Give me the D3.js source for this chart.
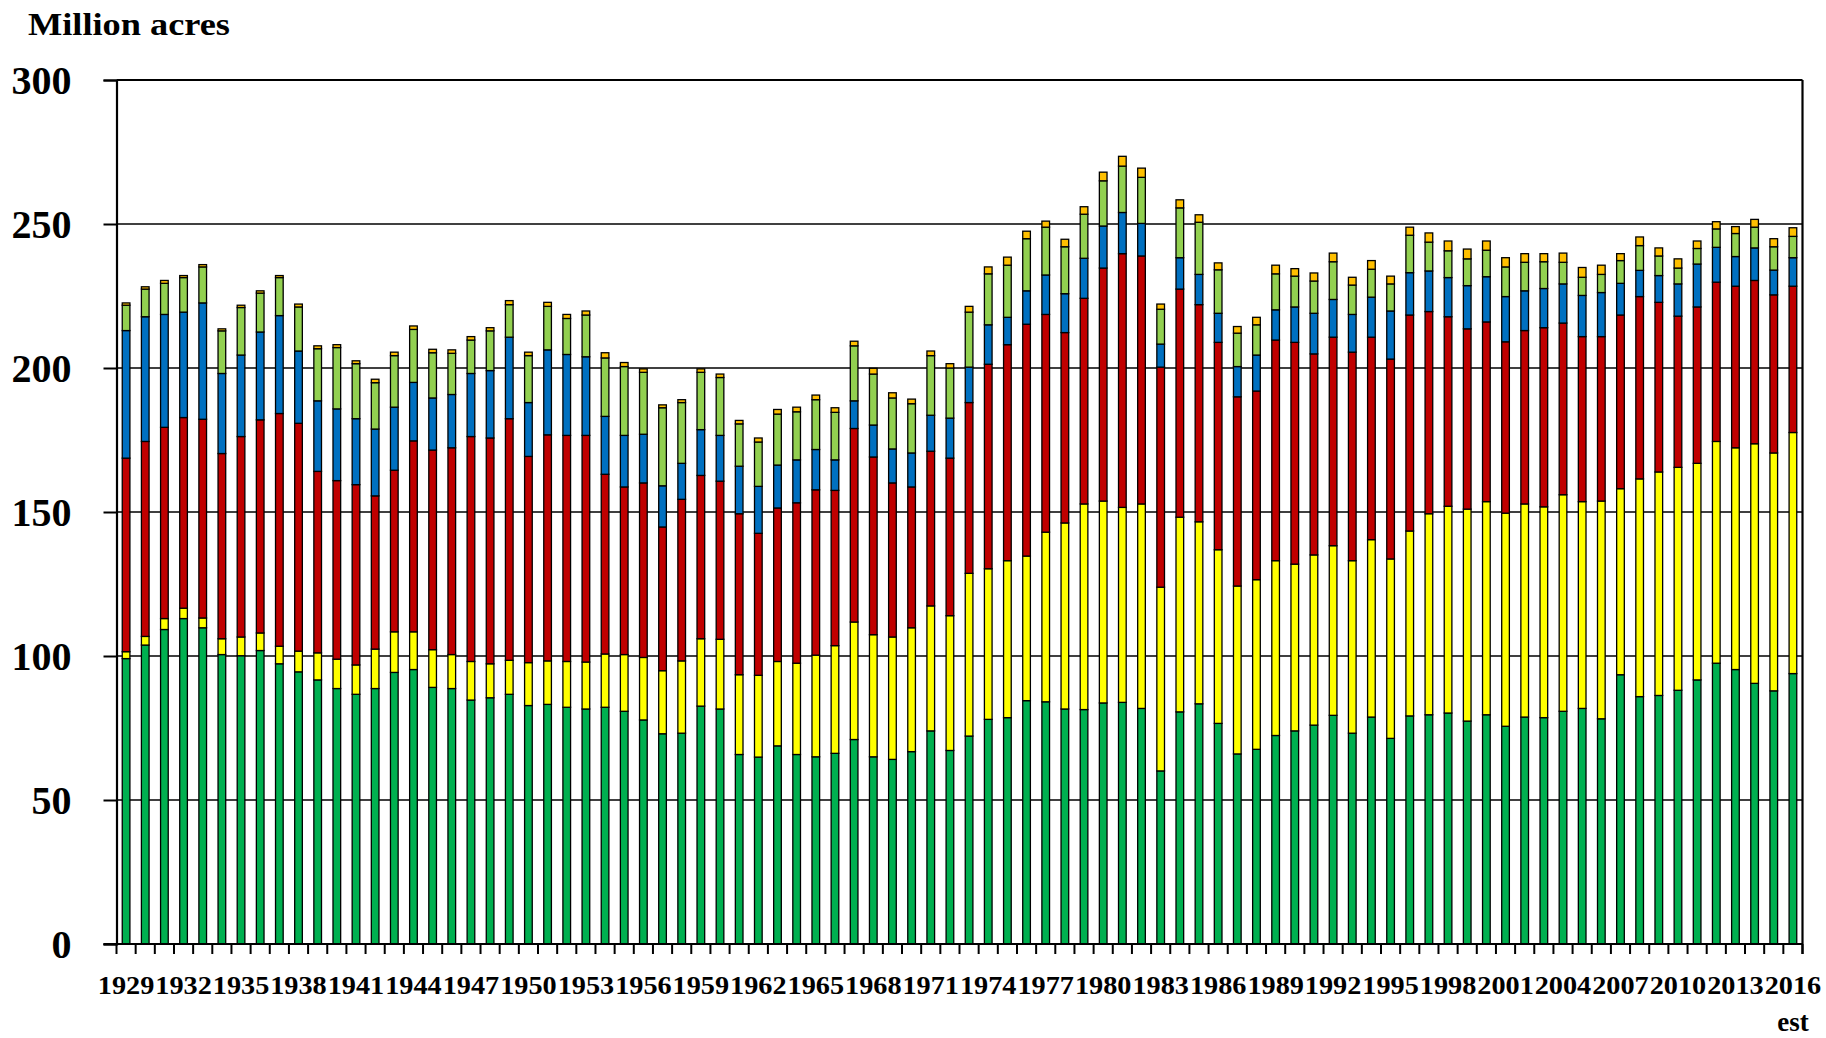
<!DOCTYPE html>
<html>
<head>
<meta charset="utf-8">
<script src="https://cdn.jsdelivr.net/npm/d3@7"></script>
<style>
  body { margin: 0; background: #fff; }
  text { font-family: "Liberation Serif", "Times New Roman", serif; font-weight: bold; fill: #000; }
</style>
</head>
<body>
<script>
const width = 1826;
const height = 1038;

// categories
const years = d3.range(1929, 2017);
const labelYears = d3.range(1929, 2017, 3);
const yTicks = [0, 50, 100, 150, 200, 250, 300];

// million acres (bottom to top of each bar)
const corn = [99.1,103.8,109.2,113.0,109.8,100.5,100.1,101.9,97.3,94.5,91.7,88.7,86.7,88.7,94.3,95.3,89.1,88.7,84.7,85.5,
	86.7,82.8,83.2,82.2,81.6,82.2,80.8,77.8,73.0,73.2,82.6,81.6,65.8,64.9,68.8,65.8,65.0,66.2,71.0,65.0,
	64.1,66.8,74.0,67.2,72.2,78.0,78.6,84.5,84.1,81.6,81.4,83.7,83.9,81.8,60.1,80.6,83.4,76.6,66.0,67.6,
	72.4,74.0,76.0,79.4,73.2,78.8,71.4,79.2,79.6,80.2,77.4,79.6,75.6,78.8,78.6,80.8,81.8,78.2,93.5,85.9,
	86.3,88.1,91.7,97.5,95.3,90.5,87.9,93.9];
const soybeans = [2.4,3.0,3.8,3.6,3.4,5.5,6.5,6.1,6.1,7.2,9.4,10.2,10.2,13.7,14.1,13.1,13.1,11.8,13.4,11.8,
	11.8,14.9,15.1,15.9,16.3,18.5,19.7,21.7,21.9,25.1,23.4,24.2,27.7,28.4,29.3,31.7,35.3,37.4,40.8,42.4,
	42.5,43.0,43.4,46.8,56.5,52.3,54.5,50.2,58.9,64.6,71.4,70.1,67.7,71.0,63.8,67.6,63.2,60.3,58.3,58.9,
	60.7,57.9,59.1,58.9,59.9,61.6,62.3,64.2,69.8,71.8,73.6,74.0,74.0,74.0,73.2,75.2,71.8,75.6,64.6,75.6,
	77.6,77.4,75.2,77.0,77.0,83.2,82.6,83.7];
const wheat = [67.2,67.7,66.4,66.2,69.0,64.3,69.6,74.0,80.8,79.1,63.0,62.0,62.6,53.2,56.1,66.3,69.3,71.8,78.1,78.4,
	83.9,71.6,78.5,78.5,78.7,62.4,58.2,60.6,49.9,56.1,56.7,54.9,55.9,49.3,53.3,55.7,57.4,53.9,67.2,61.7,
	53.5,48.9,53.7,54.7,59.3,71.0,75.0,80.5,75.6,66.1,71.4,80.9,88.1,86.1,76.4,79.2,75.4,72.0,65.7,65.5,
	76.6,77.0,69.8,72.4,72.4,70.3,69.4,75.0,70.2,65.8,62.6,62.4,59.5,60.2,62.2,59.6,57.3,57.1,60.3,63.3,
	58.9,52.5,54.3,55.3,56.1,56.7,54.9,50.8];
const cotton = [44.3,43.3,39.2,36.6,40.4,27.8,28.3,30.5,34.0,25.1,24.5,24.9,22.9,23.2,21.9,20.3,18.1,18.5,21.9,23.4,
	28.3,18.7,29.5,28.1,27.3,20.1,17.9,16.9,14.3,12.5,15.9,15.9,16.5,16.3,14.9,14.9,14.0,10.6,9.6,11.1,
	11.8,11.8,12.5,13.9,12.3,13.7,9.5,11.6,13.7,13.5,13.9,14.6,14.3,11.3,8.0,10.9,10.5,10.1,10.5,12.5,
	10.5,12.3,14.1,13.1,13.1,13.9,16.7,14.7,14.1,13.6,15.0,15.7,15.7,13.8,13.6,13.6,14.3,15.3,11.0,9.1,
	9.3,11.2,14.9,12.1,10.3,11.3,8.6,9.9];
const sorghum = [8.8,9.6,10.8,12.0,12.5,14.8,16.5,13.5,13.2,15.3,18.1,21.3,19.1,16.1,17.9,18.4,15.7,14.3,11.6,13.8,
	11.3,16.3,15.1,12.5,14.5,20.3,23.9,21.5,27.1,21.1,19.9,20.1,14.7,15.4,17.7,16.7,17.3,16.5,19.1,17.7,
	17.7,17.1,20.7,17.4,19.1,17.7,18.1,18.1,16.6,16.3,15.3,15.7,16.1,16.0,12.1,17.3,18.1,15.1,11.6,10.5,
	12.5,10.7,11.2,13.1,10.2,9.7,9.4,13.0,10.0,9.3,9.3,9.2,10.3,9.9,9.3,7.5,6.3,6.3,7.9,8.6,
	6.8,5.5,5.4,6.4,8.0,7.2,8.1,7.4];
const rice = [0.8,0.8,1.0,0.7,0.8,0.7,0.8,0.8,0.7,1.0,1.0,1.0,1.0,1.2,1.2,1.2,1.2,1.2,1.2,1.1,
	1.4,1.2,1.4,1.4,1.4,1.8,1.4,1.2,1.0,1.0,1.2,1.2,1.2,1.4,1.6,1.6,1.6,1.6,1.6,2.0,
	1.8,1.6,1.6,1.5,2.0,2.4,2.8,2.6,2.1,2.6,2.6,3.0,3.4,3.2,1.8,2.8,2.6,2.4,2.3,2.6,
	3.0,2.6,2.8,3.0,2.7,3.0,2.7,2.8,3.2,3.4,3.4,3.2,3.2,3.0,2.8,3.2,3.4,3.2,2.4,3.0,
	2.8,3.2,2.6,2.5,2.4,2.7,2.8,3.0];

const keys = ["corn", "soybeans", "wheat", "cotton", "sorghum", "rice"];
const colors = ["#00B050", "#FFFF00", "#C00000", "#0070C0", "#92D050", "#FFC000"];
const series = [corn, soybeans, wheat, cotton, sorghum, rice];

const rows = years.map(function(yr, i) {
	const row = { year: yr };
	keys.forEach((k, j) => row[k] = series[j][i]);
	return row;
});

const margin = { left: 116.5, right: 23.5, top: 80, bottom: 94 };

const svg = d3.select("body")
	.append("svg")
	.attr("width", width)
	.attr("height", height);

const x = d3.scaleBand()
	.domain(years)
	.range([margin.left, width - margin.right])
	.paddingInner(0.6)
	.paddingOuter(0.3);

const y = d3.scaleLinear()
	.domain([0, 300])
	.range([height - margin.bottom, margin.top]);

const colorScale = d3.scaleOrdinal().domain(keys).range(colors);

// gridlines
svg.append("g")
	.selectAll("line")
	.data(yTicks.filter(t => t > 0))
	.enter()
	.append("line")
	.attr("x1", margin.left)
	.attr("x2", width - margin.right)
	.attr("y1", d => y(d))
	.attr("y2", d => y(d))
	.attr("stroke", "#000")
	.attr("stroke-width", d => d == 300 ? 2.2 : 1.6);

// bars
const stacked = d3.stack().keys(keys)(rows);

svg.append("g")
	.selectAll("g")
	.data(stacked)
	.enter()
	.append("g")
	.attr("fill", d => colorScale(d.key))
	.selectAll("rect")
	.data(d => d)
	.enter()
	.append("rect")
	.attr("x", d => x(d.data.year))
	.attr("width", x.bandwidth())
	.attr("y", d => y(d[1]))
	.attr("height", d => y(d[0]) - y(d[1]))
	.attr("stroke", "#000")
	.attr("stroke-width", 1.3);

// y axis
const yAxis = svg.append("g")
	.attr("transform", `translate(${margin.left},0)`)
	.call(d3.axisLeft(y).tickValues(yTicks).tickSize(13).tickPadding(32));
yAxis.select(".domain").attr("stroke-width", 2.2);
yAxis.selectAll(".tick line").attr("stroke-width", 2);
yAxis.selectAll("text")
	.attr("font-size", 40)
	.attr("dy", "0.33em")
	.style("font-family", null);

// right border
svg.append("line")
	.attr("x1", width - margin.right)
	.attr("x2", width - margin.right)
	.attr("y1", y(300))
	.attr("y2", y(0) + 10)
	.attr("stroke", "#000")
	.attr("stroke-width", 2.2);

// x axis line + ticks at category boundaries
const boundaries = d3.range(years.length + 1).map(i => x.range()[0] + i * x.step());
svg.append("line")
	.attr("x1", margin.left - 13)
	.attr("x2", width - margin.right)
	.attr("y1", y(0))
	.attr("y2", y(0))
	.attr("stroke", "#000")
	.attr("stroke-width", 2.2);
svg.append("g")
	.selectAll("line")
	.data(boundaries)
	.enter()
	.append("line")
	.attr("x1", d => d)
	.attr("x2", d => d)
	.attr("y1", y(0))
	.attr("y2", y(0) + 10)
	.attr("stroke", "#000")
	.attr("stroke-width", 2);

// x labels (the original face is wider, so stretch to its width)
svg.append("g")
	.selectAll("text")
	.data(labelYears)
	.enter()
	.append("text")
	.attr("x", d => x(d) + x.bandwidth() / 2)
	.attr("y", y(0) + 50)
	.attr("text-anchor", "middle")
	.attr("font-size", 26)
	.attr("textLength", 56.5)
	.attr("lengthAdjust", "spacingAndGlyphs")
	.text(d => d);

svg.append("text")
	.attr("x", x(2016) + x.bandwidth() / 2)
	.attr("y", 1031)
	.attr("text-anchor", "middle")
	.attr("font-size", 27)
	.text("est");

// unit title
svg.append("text")
	.attr("x", 28)
	.attr("y", 35)
	.attr("font-size", 32)
	.attr("textLength", 202)
	.attr("lengthAdjust", "spacingAndGlyphs")
	.text("Million acres");
</script>
</body>
</html>
